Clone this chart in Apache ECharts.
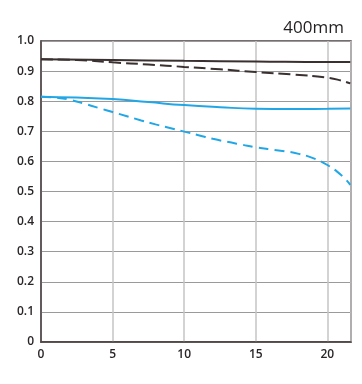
<!DOCTYPE html>
<html><head><meta charset="utf-8">
<script src="https://cdn.jsdelivr.net/npm/echarts@6/dist/echarts.min.js"></script>
<style>html,body{margin:0;padding:0;background:#fff}#c{width:362px;height:384px}</style>
</head><body><div id="c"></div>
<script>
var title = "400mm";
var xTicks = [0, 5, 10, 15, 20];
var yTicks = [0, 0.1, 0.2, 0.3, 0.4, 0.5, 0.6, 0.7, 0.8, 0.9, 1.0];

var sagSolidX = [0, 5, 10, 15, 20, 21.6];
var sagSolidY = [0.939, 0.937, 0.934, 0.932, 0.930, 0.930];

var merDashX = [0, 2.5, 5, 7.5, 10, 12.5, 15, 17.5, 20, 21, 21.6];
var merDashY = [0.939, 0.937, 0.929, 0.922, 0.914, 0.906, 0.897, 0.889, 0.878, 0.868, 0.859];

var blueSolidX = [0, 2.5, 5, 7.5, 10, 12.5, 15, 17.5, 20, 21.6];
var blueSolidY = [0.815, 0.812, 0.807, 0.797, 0.787, 0.780, 0.775, 0.774, 0.775, 0.776];

var blueDashX = [0, 1, 2, 3, 4, 5, 6, 7, 8, 9, 10, 11, 12, 13, 14, 15, 16, 17, 18, 19, 20, 21, 21.6];
var blueDashY = [0.815, 0.812, 0.805, 0.792, 0.778, 0.764, 0.750, 0.736, 0.723, 0.711, 0.699, 0.687, 0.675, 0.665, 0.656, 0.647, 0.640, 0.634, 0.625, 0.611, 0.588, 0.553, 0.522];

function pairs(xs, ys) { return xs.map(function (x, i) { return [x, ys[i]]; }); }

var chart = echarts.init(document.getElementById('c'), null, {renderer: 'canvas'});
var font = '"Open Sans", sans-serif';
chart.setOption({
  animation: false,
  title: {text: title, right: 13, top: 15, textStyle: {fontFamily: font, fontSize: 17, fontWeight: 'normal', color: '#231f20'}},
  grid: {left: 41, right: 11, top: 41, bottom: 42, show: true, borderColor: '#4a3f3f', borderWidth: 1.5, backgroundColor: 'transparent'},
  xAxis: {
    type: 'value', min: 0, max: 21.65, interval: 5,
    axisLine: {show: true, lineStyle: {color: '#4a3f3f', width: 1.5}},
    axisTick: {show: false},
    splitLine: {show: true, lineStyle: {color: '#c4c4c4', width: 1.5}},
    axisLabel: {fontFamily: font, fontSize: 12, fontWeight: 600, color: '#2a2526', margin: 7, showMaxLabel: false,
      formatter: function (v) { return xTicks.indexOf(v) >= 0 ? String(v) : ''; }}
  },
  yAxis: {
    type: 'value', min: 0, max: 1, interval: 0.1,
    axisLine: {show: true, lineStyle: {color: '#4a3f3f', width: 1.5}},
    axisTick: {show: false},
    splitLine: {show: true, lineStyle: {color: '#9a9a9a', width: 1}},
    axisLabel: {fontFamily: font, fontSize: 12, fontWeight: 600, color: '#2a2526', margin: 7,
      formatter: function (v) { var t = yTicks.find(function (y) { return Math.abs(y - v) < 1e-6; }); if (t === undefined) return ''; return t === 0 ? '0' : t.toFixed(1); }}
  },
  series: [
    {type: 'line', data: pairs(sagSolidX, sagSolidY), smooth: true, showSymbol: false, lineStyle: {color: '#3a3030', width: 2, type: 'solid'}, z: 4},
    {type: 'line', data: pairs(merDashX, merDashY), smooth: true, showSymbol: false, lineStyle: {color: '#3a3030', width: 2, type: [12, 5]}, z: 3},
    {type: 'line', data: pairs(blueSolidX, blueSolidY), smooth: true, showSymbol: false, lineStyle: {color: '#22a7e6', width: 2, type: 'solid'}, z: 4},
    {type: 'line', data: pairs(blueDashX, blueDashY), smooth: true, showSymbol: false, lineStyle: {color: '#22a7e6', width: 2, type: [10, 6]}, z: 3}
  ]
});
</script></body></html>
